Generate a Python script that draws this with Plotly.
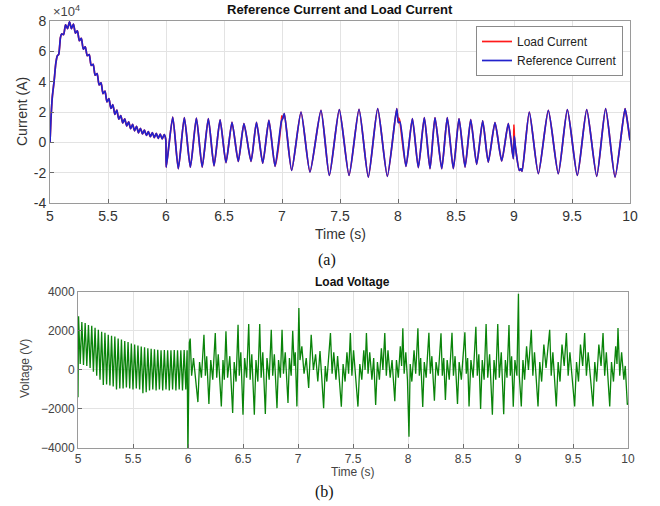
import plotly.graph_objects as go

# ---------------- Data: current (A) ----------------
ref_t_rise = [5.000, 5.008, 5.020, 5.035, 5.050, 5.063, 5.075, 5.090]
ref_i_rise = [0, 15000, 30000, 40000, 52000, 57000, 58000, 69000]

ref_t_decay = [5.100, 5.117, 5.134, 5.151, 5.168, 5.185, 5.202, 5.219, 5.236, 5.253,
               5.270, 5.287, 5.304, 5.321, 5.338, 5.355, 5.372, 5.389, 5.406, 5.423,
               5.440, 5.457, 5.474, 5.491, 5.508, 5.525, 5.542, 5.559, 5.576, 5.593,
               5.610, 5.627, 5.644, 5.661, 5.678, 5.695, 5.712, 5.729, 5.746, 5.763,
               5.780, 5.797, 5.814, 5.831, 5.848, 5.865, 5.882, 5.899, 5.916, 5.933,
               5.950, 5.967, 5.984, 5.998]
ref_i_decay = [71500, 71000, 77500, 75000, 79500, 75000, 78000, 72000, 73500, 67000,
               68500, 61500, 63000, 57100, 57900, 50700, 51500, 44300, 45400, 37900,
               39200, 32100, 33800, 26700, 28800, 22400, 24800, 18400, 21200, 15300,
               17700, 12800, 15500, 10900, 13500, 9000, 11800, 7600, 10600, 6300,
               9300, 5500, 8000, 4500, 7050, 3750, 6450, 3150, 5850, 2650,
               5450, 2250, 5050, 1900]

ref_t_osc = [6.002, 6.058, 6.106, 6.158, 6.210, 6.262, 6.312, 6.365, 6.414, 6.466,
             6.517, 6.569, 6.623, 6.672, 6.733, 6.780, 6.834, 6.887, 6.940, 6.995,
             7.005, 7.020, 7.083, 7.164, 7.241, 7.336, 7.408, 7.494, 7.578, 7.664,
             7.744, 7.825, 7.908, 7.989, 8.003, 8.017, 8.069, 8.124, 8.175, 8.227,
             8.276, 8.319, 8.377, 8.425, 8.477, 8.526, 8.578, 8.627, 8.678, 8.730,
             8.778, 8.836, 8.894, 8.951, 8.994, 9.003, 9.012, 9.046, 9.060, 9.070,
             9.132, 9.210, 9.296, 9.382, 9.460, 9.546, 9.627, 9.713, 9.790, 9.871,
             9.957, 9.975, 10.000]
ref_i_osc = [-16500, 16700, -17400, 16300, -16400, 16000, -16300, 15600, -15500, 14800,
             -13400, 13200, -12600, 12300, -12600, 13200, -13800, 14500, -15800, 14000,
             15500, 18900, -18500, 20000, -19600, 21100, -21800, 21600, -21800, 21800,
             -22900, 22200, -22400, 22200, 13000, 13400, -15800, 15600, -16700, 16300,
             -17400, 16300, -17400, 16300, -17400, 15600, -16300, 15000, -14500, 14100,
             -13000, 13000, -12300, 12300, -10800, 4000, -3000, -18500, -17500, -19000,
             20000, -20700, 21100, -20700, 21600, -21800, 21600, -22400, 22200, -22900,
             22200, 15000, 1300]

# Points where the load current departs from the reference current
load_extra_t = [6.998, 8.008, 8.999]
load_extra_i = [17500, 16000, 11500]

# ---------------- Data: voltage (V) ----------------
volt_t_a = [5.000,
            5.005, 5.020, 5.035, 5.050, 5.065, 5.080, 5.095, 5.110, 5.125, 5.140,
            5.155, 5.170, 5.185, 5.200, 5.215, 5.230, 5.245, 5.260, 5.275, 5.290,
            5.305, 5.320, 5.335, 5.350, 5.365, 5.380, 5.395, 5.410, 5.425, 5.440,
            5.455, 5.470, 5.485, 5.500, 5.515, 5.530, 5.545, 5.560, 5.575, 5.590,
            5.605, 5.620, 5.635, 5.650, 5.665, 5.680, 5.695, 5.710, 5.725, 5.740,
            5.755, 5.770, 5.785, 5.800, 5.815, 5.830, 5.845, 5.860, 5.875, 5.890,
            5.905, 5.920, 5.935, 5.950, 5.965, 5.980,
            5.992, 5.999]
volt_v_a = [-1400,
            2740, 300, 2450, 250, 2400, 200, 2300, 100, 2250, -100,
            2150, -300, 2050, -500, 1950, -780, 1900, -750, 1800, -800,
            1750, -850, 1700, -1000, 1600, -950, 1550, -950, 1480, -900,
            1420, -950, 1350, -1000, 1300, -950, 1250, -1000, 1200, -1200,
            1150, -1150, 1100, -1050, 1080, -1000, 1050, -1050, 1030, -1000,
            1000, -1050, 1020, -1000, 1000, -1050, 1000, -1000, 1010, -1050,
            1000, -1000, 1000, -1050, 1020, -1000,
            1000, -4300]

volt_t_b = [6.000, 6.012, 6.020, 6.033, 6.050, 6.065, 6.090, 6.105, 6.122,
            6.145, 6.158, 6.170, 6.190, 6.207, 6.225,
            6.248, 6.261, 6.275, 6.303, 6.318, 6.330,
            6.345, 6.360, 6.380, 6.406, 6.420, 6.437,
            6.455, 6.466, 6.480, 6.500, 6.515, 6.533,
            6.552, 6.565, 6.580, 6.603, 6.618, 6.635,
            6.652, 6.665, 6.680, 6.703, 6.718, 6.738,
            6.757, 6.770, 6.785, 6.809, 6.823, 6.840,
            6.855, 6.868, 6.884, 6.909, 6.922, 6.938,
            6.952, 6.965, 6.975, 6.990, 7.000,
            7.008, 7.018, 7.035, 7.055, 7.075, 7.097, 7.108,
            7.120, 7.140, 7.160, 7.180, 7.200, 7.215, 7.233, 7.248, 7.262,
            7.295, 7.310, 7.325, 7.345, 7.360, 7.394, 7.410, 7.428, 7.445, 7.460,
            7.476, 7.490, 7.505, 7.525, 7.545, 7.562, 7.580, 7.598, 7.610,
            7.622, 7.637, 7.652, 7.672, 7.688, 7.706, 7.722, 7.740, 7.758, 7.772,
            7.789, 7.803, 7.818, 7.838, 7.855, 7.880, 7.895, 7.912, 7.930, 7.942,
            7.953, 7.965, 7.980, 7.995, 8.009, 8.020, 8.035, 8.055, 8.070,
            8.090, 8.103, 8.115, 8.134, 8.148, 8.165,
            8.190, 8.203, 8.217, 8.240, 8.255, 8.275,
            8.300, 8.312, 8.325, 8.340, 8.356, 8.375,
            8.400, 8.413, 8.428, 8.450, 8.465, 8.485,
            8.517, 8.530, 8.542, 8.555, 8.572, 8.592,
            8.617, 8.630, 8.644, 8.660, 8.675, 8.692,
            8.710, 8.725, 8.742, 8.767, 8.782, 8.798,
            8.816, 8.830, 8.848, 8.870, 8.885, 8.900,
            8.918, 8.930, 8.942, 8.957, 8.972, 8.990,
            9.004, 9.012, 9.030, 9.045, 9.060, 9.078, 9.095,
            9.121, 9.135, 9.150, 9.165, 9.182, 9.198, 9.215, 9.235, 9.255,
            9.288, 9.302, 9.317, 9.332, 9.348, 9.365, 9.382, 9.400, 9.420,
            9.440, 9.456, 9.472, 9.492, 9.515, 9.532, 9.550, 9.568, 9.588,
            9.606, 9.622, 9.638, 9.658, 9.682, 9.698, 9.715, 9.735, 9.755,
            9.773, 9.788, 9.803, 9.818, 9.834, 9.850, 9.868, 9.888, 9.900,
            9.909, 9.925, 9.942, 9.962, 9.975, 9.994, 10.000]
volt_v_b = [-4300, 1400, 1600, -300, 600, -200, -1650, 400, -400,
            1800, -300, 700, -1750, 500, -500,
            1880, -400, 800, -1870, 500, -500,
            1970, -400, 700, -2210, 400, -600,
            2310, -300, 900, -2300, 600, -400,
            2350, -500, 800, -2300, 500, -600,
            2350, -400, 900, -2260, 600, -500,
            2050, -300, 800, -1960, 500, -400,
            2050, -200, 900, -1700, 600, -300,
            2000, 200, 900, -1870, 800,
            3160, 500, 1200, -200, 600, -930, 800,
            1800, 0, 800, -600, 960, -300, -1960, 200, -600,
            1880, -200, 900, -500, 700, -1890, 300, -600, 900, -200,
            1880, -300, 1000, -400, -1880, 300, -500, 1000, 0,
            1880, -200, 900, -500, 600, -1800, 400, -500, 1100, 0,
            1880, -300, 1000, -400, 500, -1600, 500, -400, 1200, 200,
            2130, -200, 900, -500, -3420, 300, -600, 1000, -200,
            2130, -300, 600, -1900, 400, -400,
            1900, -200, 700, -1580, 400, -300,
            1870, -300, 600, -1540, 500, -500,
            1900, -300, 700, -1750, 400, -500,
            1920, -200, 600, -1880, 500, -400,
            2200, -300, 800, -2000, 500, -500,
            2350, -400, 800, -2300, 500, -500,
            2350, -400, 900, -2270, 500, -400,
            2300, -300, 700, -1890, 500, -300,
            3900, -300, -1870, 500, -500, 1200, 0,
            2050, -300, 900, -500, -1870, 400, -600, 1300, 100,
            2050, -300, 900, -400, -1870, 400, -600, 1300, 200,
            1880, -300, 900, -500, -1870, 400, -600, 1300, 200,
            1880, -300, 900, -500, -1870, 400, -600, 1300, 200,
            1880, -300, 900, -500, -1870, 400, -600, 1200, 300,
            2140, -300, 900, -500, 200, -1790, -1700]

current_tickvals = [-40000, -20000, 0, 20000, 40000, 60000, 80000]
current_ticktext = ["-4", "-2", "0", "2", "4", "6", "8"]
voltage_tickvals = [-4000, -2000, 0, 2000, 4000]
time_tickvals = [5, 5.5, 6, 6.5, 7, 7.5, 8, 8.5, 9, 9.5, 10]
time_ticktext = ["5", "5.5", "6", "6.5", "7", "7.5", "8", "8.5", "9", "9.5", "10"]

assert len(ref_t_decay) == len(ref_i_decay)
assert len(ref_t_osc) == len(ref_i_osc)
assert len(volt_t_a) == len(volt_v_a), (len(volt_t_a), len(volt_v_a))
assert len(volt_t_b) == len(volt_v_b), (len(volt_t_b), len(volt_v_b))

ref_t = ref_t_rise + ref_t_decay + ref_t_osc
ref_i = ref_i_rise + ref_i_decay + ref_i_osc
load_pairs = sorted(list(zip(ref_t, ref_i)) + list(zip(load_extra_t, load_extra_i)))
load_t = [p[0] for p in load_pairs]
load_i = [p[1] for p in load_pairs]
volt_t = volt_t_a + volt_t_b
volt_v = volt_v_a + volt_v_b

W, H = 660, 506
def px_x(p):
    return p / W
def px_y(p):
    return 1 - p / H

fig = go.Figure()
fig.add_trace(go.Scatter(x=load_t, y=load_i, mode="lines", name="Load Current",
                         line=dict(color="#ff1a1a", width=1.7, shape="spline", smoothing=0.6),
                         xaxis="x", yaxis="y"))
fig.add_trace(go.Scatter(x=ref_t, y=ref_i, mode="lines", name="Reference Current",
                         line=dict(color="#2222cc", width=1.7, shape="spline", smoothing=0.6),
                         xaxis="x", yaxis="y"))
fig.add_trace(go.Scatter(x=volt_t, y=volt_v, mode="lines", name="Load Voltage",
                         line=dict(color="#0a840a", width=1.3),
                         xaxis="x2", yaxis="y2", showlegend=False))

axis_common = dict(showline=True, mirror=True, linecolor="#9a9a9a", linewidth=1,
                   ticks="inside", ticklen=4, tickcolor="#6a6a6a", automargin=False,
                   showgrid=True, gridcolor="#e3e3e3", gridwidth=1, zeroline=False)

fig.update_layout(
    template="none",
    width=W, height=H,
    margin=dict(l=0, r=0, t=0, b=0, pad=0, autoexpand=False),
    paper_bgcolor="white", plot_bgcolor="white",
    font=dict(family="Liberation Sans, Arial, sans-serif", color="#333333"),
    xaxis=dict(domain=[px_x(50), px_x(630)], range=[5, 10], anchor="y",
               tickvals=time_tickvals, ticktext=time_ticktext,
               tickfont=dict(size=14, color="#333333"), **axis_common),
    yaxis=dict(domain=[px_y(203), px_y(21)], range=[-40000, 80000], anchor="x",
               tickvals=current_tickvals, ticktext=current_ticktext,
               tickfont=dict(size=14, color="#333333"), **axis_common),
    xaxis2=dict(domain=[px_x(78), px_x(628)], range=[5, 10], anchor="y2",
                tickvals=time_tickvals, ticktext=time_ticktext,
                tickfont=dict(size=12, color="#444444"), **axis_common),
    yaxis2=dict(domain=[px_y(448), px_y(291.7)], range=[-4000, 4000], anchor="x2",
                tickvals=voltage_tickvals,
                tickfont=dict(size=12, color="#444444"), **axis_common),
    legend=dict(x=px_x(623), y=px_y(26), xanchor="right", yanchor="top",
                bgcolor="white", bordercolor="#8a8a8a", borderwidth=1,
                font=dict(size=12, color="#222222"), tracegroupgap=0,
                itemwidth=30),
    showlegend=True,
)

ann = [
    dict(text="<b>Reference Current and Load Current</b>", x=px_x(340), y=px_y(10),
         font=dict(size=13, color="#111111")),
    dict(text="×10<sup>4</sup>", x=px_x(66), y=px_y(11), font=dict(size=13, color="#444444")),
    dict(text="Time (s)", x=px_x(340), y=px_y(234), font=dict(size=14, color="#333333")),
    dict(text="Current (A)", x=px_x(22), y=px_y(112), textangle=-90,
         font=dict(size=14, color="#333333")),
    dict(text="(a)", x=px_x(327), y=px_y(260),
         font=dict(size=16, color="#111111", family="Liberation Serif, Times New Roman, serif")),
    dict(text="<b>Load Voltage</b>", x=px_x(352), y=px_y(282), font=dict(size=12, color="#111111")),
    dict(text="Time (s)", x=px_x(353), y=px_y(472), font=dict(size=12, color="#444444")),
    dict(text="Voltage (V)", x=px_x(25), y=px_y(369), textangle=-90,
         font=dict(size=12, color="#444444")),
    dict(text="(b)", x=px_x(324), y=px_y(492),
         font=dict(size=16, color="#111111", family="Liberation Serif, Times New Roman, serif")),
]
for a in ann:
    a.update(xref="paper", yref="paper", showarrow=False, xanchor="center", yanchor="middle")
    fig.add_annotation(**a)

# remove the browser's default 8 px body margin so the figure sits at the page origin
fig.write_html("out.html", config={"displayModeBar": False},
               post_script="document.body.style.margin='0';")
